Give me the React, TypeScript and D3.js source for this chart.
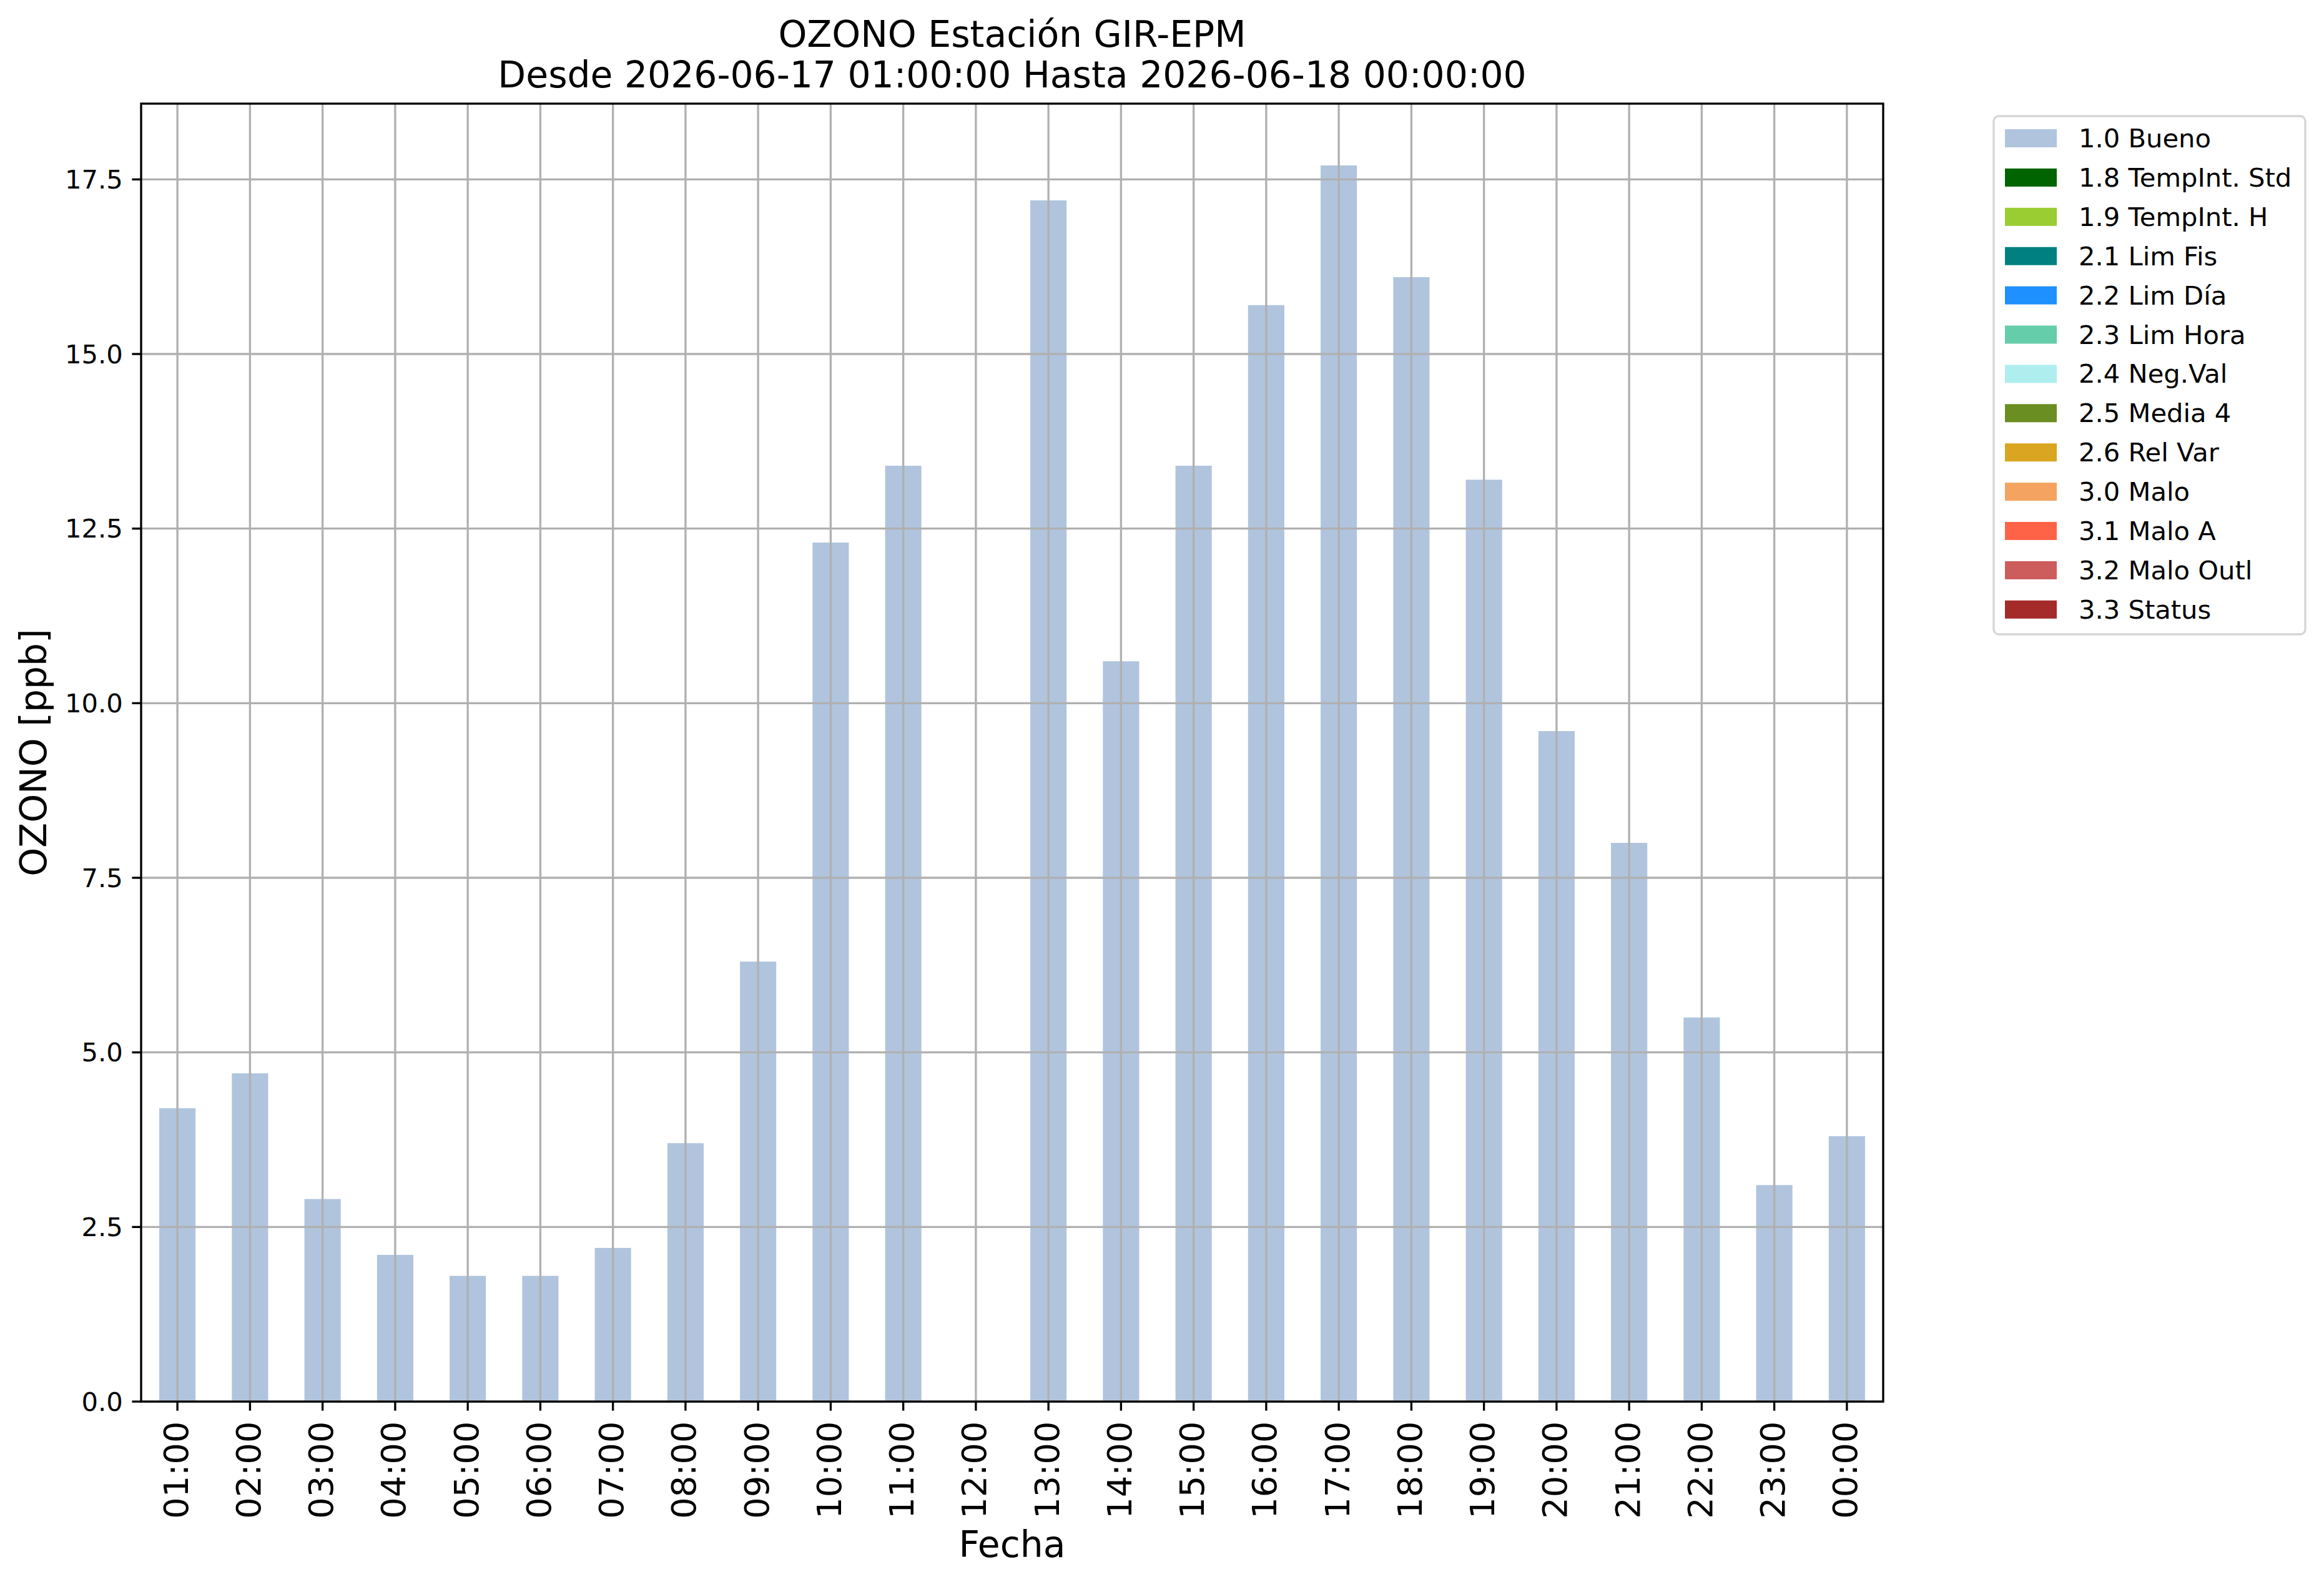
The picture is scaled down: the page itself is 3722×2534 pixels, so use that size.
import React from "react";
import * as d3 from "d3";

const hours = ["01:00","02:00","03:00","04:00","05:00","06:00","07:00","08:00","09:00","10:00","11:00","12:00","13:00","14:00","15:00","16:00","17:00","18:00","19:00","20:00","21:00","22:00","23:00","00:00"];
const ozono: (number | null)[] = [4.2,4.7,2.9,2.1,1.8,1.8,2.2,3.7,6.3,12.3,13.4,null,17.2,10.6,13.4,15.7,17.7,16.1,13.2,9.6,8.0,5.5,3.1,3.8];
const yTicks = [0,2.5,5,7.5,10,12.5,15,17.5];
const legendLabels = ["1.0 Bueno","1.8 TempInt. Std","1.9 TempInt. H","2.1 Lim Fis","2.2 Lim Día","2.3 Lim Hora","2.4 Neg.Val","2.5 Media 4","2.6 Rel Var","3.0 Malo","3.1 Malo A","3.2 Malo Outl","3.3 Status"];
const legendColors = ["#b0c4de","#006400","#9acd32","#008080","#1e90ff","#66cdaa","#afeeee","#6b8e23","#daa520","#f4a460","#ff6347","#cd5c5c","#a52a2a"];
const titleLines = ["OZONO Estación GIR-EPM","Desde 2026-06-17 01:00:00 Hasta 2026-06-18 00:00:00"];

const W = 3722, H = 2534;
const L = 226, R = 3016, T = 166, B = 2245;
const lw = 3.33;
const font = "DejaVu Sans";

export default function App() {
  const x = d3.scaleBand<string>().domain(hours).range([L, R]).paddingInner(0.5).paddingOuter(0.25);
  const ymax = 17.7 * 1.05;
  const y = d3.scaleLinear().domain([0, ymax]).range([B, T]);
  const cx = (h: string) => (x(h) as number) + x.bandwidth() / 2;
  const fs10 = 41.67, fs13 = 54.17, fs14 = 58.33;
  const legX = 3193, legY = 186, legW = 499, legH = 830;
  const rowH = 62.9;
  return (
    <svg width={W} height={H} style={{ position: "absolute", left: 0, top: 0, background: "#fff" }} fontFamily={font}>
      <rect x={0} y={0} width={W} height={H} fill="#fff" />
      {/* bars */}
      {hours.map((h, i) => {
        const v = ozono[i];
        if (v === null) return null;
        return <rect key={h} x={x(h)} y={y(v)} width={x.bandwidth()} height={B - y(v)} fill="#b0c4de" />;
      })}
      {/* grid */}
      {hours.map((h) => (
        <line key={"gv" + h} x1={cx(h)} x2={cx(h)} y1={T} y2={B} stroke="#b0b0b0" strokeWidth={lw} />
      ))}
      {yTicks.map((t) => (
        <line key={"gh" + t} x1={L} x2={R} y1={y(t)} y2={y(t)} stroke="#b0b0b0" strokeWidth={lw} />
      ))}
      {/* spines */}
      <rect x={L} y={T} width={R - L} height={B - T} fill="none" stroke="#000" strokeWidth={lw} />
      {/* y ticks */}
      {yTicks.map((t) => (
        <g key={"yt" + t}>
          <line x1={L - 14.6} x2={L} y1={y(t)} y2={y(t)} stroke="#000" strokeWidth={lw} />
          <text x={L - 14.6 - 14.6} y={y(t)} fontSize={fs10} textAnchor="end" dominantBaseline="central">{t.toFixed(1)}</text>
        </g>
      ))}
      {/* x ticks */}
      {hours.map((h) => (
        <g key={"xt" + h}>
          <line x1={cx(h)} x2={cx(h)} y1={B} y2={B + 14.6} stroke="#000" strokeWidth={lw} />
          <text transform={`translate(${cx(h) - 2},${B + 14.6 + 17}) rotate(-90)`} fontSize={fs13} textAnchor="end" dominantBaseline="central">{h}</text>
        </g>
      ))}
      {/* axis labels */}
      <text x={(L + R) / 2} y={2494} fontSize={fs14} textAnchor="middle">Fecha</text>
      <text transform={`translate(74,${(T + B) / 2}) rotate(-90)`} fontSize={fs14} textAnchor="middle">OZONO [ppb]</text>
      {/* title */}
      <text x={(L + R) / 2} y={75} fontSize={fs14} textAnchor="middle">{titleLines[0]}</text>
      <text x={(L + R) / 2} y={140} fontSize={fs14} textAnchor="middle">{titleLines[1]}</text>
      {/* legend */}
      <rect x={legX} y={legY} width={legW} height={legH} rx={8} ry={8} fill="#fff" fillOpacity={0.8} stroke="#cccccc" strokeOpacity={0.8} strokeWidth={lw} />
      {legendLabels.map((lab, i) => (
        <g key={lab}>
          <rect x={3211} y={207 + i * rowH} width={83} height={29} fill={legendColors[i]} />
          <text x={3329} y={236 + i * rowH} fontSize={fs10}>{lab}</text>
        </g>
      ))}
    </svg>
  );
}
